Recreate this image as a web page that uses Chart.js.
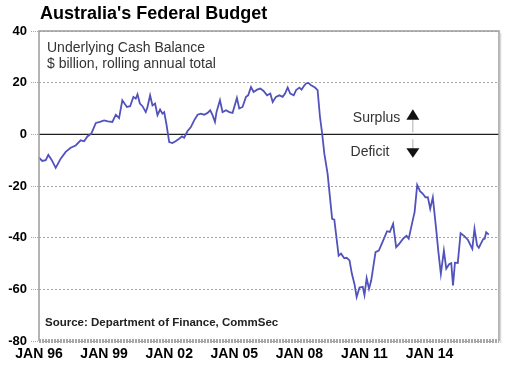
<!DOCTYPE html>
<html>
<head>
<meta charset="utf-8">
<script src="https://cdn.jsdelivr.net/npm/chart.js@4.4.1/dist/chart.umd.min.js"></script>
<style>
  html, body { margin: 0; padding: 0; background: #fff; }
  #chart-budget { display: block; }
</style>
</head>
<body>
<canvas id="chart-budget" width="508" height="371"></canvas>
<script>
/* ── Data: underlying cash balance, $bn rolling annual total ── */
// dates as decimal years, one row per calendar year
const dates = [
  1996.00, 1996.15, 1996.31, 1996.43, 1996.59, 1996.77,
  1997.00, 1997.23, 1997.46, 1997.69, 1997.92,
  1998.08, 1998.23, 1998.41, 1998.62, 1998.81,
  1999.00, 1999.18, 1999.38, 1999.54, 1999.69, 1999.84,
  2000.05, 2000.20, 2000.35, 2000.46, 2000.54, 2000.65, 2000.77, 2000.92,
  2001.00, 2001.12, 2001.23, 2001.35, 2001.46, 2001.58, 2001.69, 2001.77, 2001.87,
  2002.00, 2002.15, 2002.31, 2002.46, 2002.59, 2002.69, 2002.84,
  2003.00, 2003.15, 2003.31, 2003.46, 2003.61, 2003.77, 2003.89,
  2004.00, 2004.11, 2004.18, 2004.34, 2004.46, 2004.62, 2004.77, 2004.92,
  2005.12, 2005.23, 2005.38, 2005.54, 2005.64, 2005.77, 2005.89,
  2006.05, 2006.20, 2006.35, 2006.51, 2006.66, 2006.77, 2006.92,
  2007.08, 2007.23, 2007.34, 2007.46, 2007.58, 2007.74, 2007.85,
  2008.00, 2008.10, 2008.20, 2008.31, 2008.41, 2008.54, 2008.72, 2008.84, 2008.95,
  2009.05, 2009.15, 2009.30, 2009.51, 2009.61, 2009.81, 2009.92,
  2010.07, 2010.18, 2010.31, 2010.42, 2010.54, 2010.64, 2010.77, 2010.92,
  2011.00, 2011.10, 2011.21, 2011.31, 2011.51, 2011.66, 2011.83,
  2012.04, 2012.17, 2012.32, 2012.46, 2012.60, 2012.80, 2012.94,
  2013.04, 2013.21, 2013.31, 2013.43, 2013.56, 2013.69, 2013.81, 2013.92,
  2014.03, 2014.15, 2014.31, 2014.40, 2014.52, 2014.66, 2014.77, 2014.90,
  2015.00, 2015.08, 2015.17, 2015.30, 2015.43, 2015.59, 2015.77, 2015.97,
  2016.07, 2016.19, 2016.27, 2016.47, 2016.54, 2016.61, 2016.73
];
const balance = [
  -9.0, -10.3, -10.0, -7.9, -10.0, -13.0,
  -9.4, -6.8, -5.2, -4.3, -2.3,
  -2.7, -0.8, 0.3, 4.4, 4.8,
  5.4, 5.0, 4.8, 7.6, 6.3, 13.2,
  10.6, 10.9, 14.5, 13.8, 15.5, 11.9, 10.9, 8.6,
  10.6, 15.1, 11.2, 11.9, 7.4, 9.6, 8.0, 8.6, 4.1,
  -3.0, -3.4, -2.6, -1.7, -0.8, -1.3, 1.2,
  2.8, 5.4, 7.6, 8.0, 7.6, 8.3, 9.3,
  7.4, 4.8, 8.6, 13.2, 8.6, 9.3, 8.6, 8.3,
  14.1, 10.0, 10.6, 14.5, 15.1, 18.3, 16.4,
  17.3, 17.7, 16.8, 15.1, 15.8, 12.5, 14.5,
  15.1, 14.5, 15.8, 18.1, 15.8, 15.1, 17.1,
  18.1, 17.3, 18.6, 19.7, 19.9, 19.0, 18.1, 17.1, 6.7,
  0.3, -7.5, -15.2, -32.7, -33.0, -47.0, -46.2,
  -48.0, -47.8, -48.8, -54.0, -58.0, -63.0, -59.3, -59.0,
  -62.2, -55.7, -59.8, -56.6, -45.6, -45.0, -41.7,
  -37.5, -37.8, -34.6, -43.7, -42.4, -40.2, -39.3,
  -40.4, -33.8, -30.1, -19.6, -22.0, -23.0, -24.4, -24.3,
  -28.8, -24.4, -37.2, -45.0, -54.0, -45.0, -52.0, -50.3,
  -49.9, -58.5, -49.7, -49.8, -38.3, -39.3, -40.9, -44.3,
  -36.6, -43.0, -43.9, -40.6, -40.4, -37.9, -38.8
];
const xTicks = [1996, 1999, 2002, 2005, 2008, 2011, 2014];
const xTickLabels = ['JAN 96', 'JAN 99', 'JAN 02', 'JAN 05', 'JAN 08', 'JAN 11', 'JAN 14'];
const yTicks = [40, 20, 0, -20, -40, -60, -80];

const FONT = '"Liberation Sans", Arial, sans-serif';

/* ── Frame, zero line, notes ── */
const decorPlugin = {
  id: 'decor',
  beforeDatasetsDraw(chart) {
    const { ctx, chartArea: a, scales: { y } } = chart;
    const y0 = y.getPixelForValue(0);
    ctx.save();
    ctx.strokeStyle = '#1e1e1e';
    ctx.lineWidth = 1.3;
    ctx.beginPath(); ctx.moveTo(a.left, y0); ctx.lineTo(a.right, y0); ctx.stroke();
    ctx.restore();
  },
  afterDraw(chart) {
    const { ctx, chartArea: a, scales: { x, y } } = chart;
    ctx.save();

    // box
    ctx.strokeStyle = '#9c9c9c';
    ctx.lineWidth = 1.5;
    ctx.beginPath();
    ctx.moveTo(a.left, a.bottom); ctx.lineTo(a.left, a.top);
    ctx.lineTo(a.right, a.top); ctx.lineTo(a.right, a.bottom);
    ctx.stroke();
    ctx.strokeStyle = '#d8d8d8';
    ctx.lineWidth = 1.5;
    ctx.beginPath(); ctx.moveTo(a.right + 1.5, a.top + 2); ctx.lineTo(a.right + 1.5, a.bottom + 2); ctx.stroke();
    // hatched base line
    ctx.strokeStyle = '#a8a8a8';
    ctx.lineWidth = 4;
    ctx.setLineDash([2, 1]);
    ctx.beginPath(); ctx.moveTo(a.left, a.bottom); ctx.lineTo(a.right, a.bottom); ctx.stroke();
    ctx.setLineDash([]);

    // title
    ctx.fillStyle = '#000';
    ctx.font = 'bold 18px ' + FONT;
    ctx.textBaseline = 'alphabetic';
    ctx.textAlign = 'left';
    ctx.fillText("Australia's Federal Budget", a.left + 1, 19);

    // series note
    ctx.fillStyle = '#333';
    ctx.font = '14px ' + FONT;
    ctx.fillText('Underlying Cash Balance', a.left + 8, a.top + 21);
    ctx.fillText('$ billion, rolling annual total', a.left + 8, a.top + 37);

    // source
    ctx.fillStyle = '#222';
    ctx.font = 'bold 11.5px ' + FONT;
    ctx.fillText('Source: Department of Finance, CommSec', a.left + 6, a.bottom - 15);

    // surplus / deficit
    const y0 = y.getPixelForValue(0);
    const ax = x.getPixelForValue(2013.23);
    ctx.fillStyle = '#333';
    ctx.font = '14px ' + FONT;
    ctx.textAlign = 'right';
    ctx.fillText('Surplus', x.getPixelForValue(2012.65), y0 - 12);
    ctx.fillText('Deficit', x.getPixelForValue(2012.15), y0 + 22);

    ctx.strokeStyle = '#b0b0b0';
    ctx.lineWidth = 1;
    ctx.beginPath(); ctx.moveTo(ax, y0 - 15); ctx.lineTo(ax, y0 - 2); ctx.stroke();
    ctx.beginPath(); ctx.moveTo(ax, y0 + 5); ctx.lineTo(ax, y0 + 15); ctx.stroke();
    ctx.fillStyle = '#111';
    ctx.beginPath();
    ctx.moveTo(ax, y0 - 25); ctx.lineTo(ax + 6.5, y0 - 14.5); ctx.lineTo(ax - 6.5, y0 - 14.5);
    ctx.closePath(); ctx.fill();
    ctx.beginPath();
    ctx.moveTo(ax, y0 + 23.5); ctx.lineTo(ax + 6.5, y0 + 14); ctx.lineTo(ax - 6.5, y0 + 14);
    ctx.closePath(); ctx.fill();

    ctx.restore();
  }
};

new Chart(document.getElementById('chart-budget'), {
  type: 'line',
  data: {
    datasets: [{
      label: 'Underlying Cash Balance',
      data: dates.map((d, i) => ({ x: d, y: balance[i] })),
      borderColor: '#5252bd',
      borderWidth: 1.8,
      pointRadius: 0,
      tension: 0,
      fill: false
    }]
  },
  options: {
    responsive: false,
    animation: false,
    layout: { padding: { top: 31, right: 9, left: 0, bottom: 0 } },
    plugins: { legend: { display: false }, tooltip: { enabled: false } },
    scales: {
      x: {
        type: 'linear',
        min: 1996,
        max: 2017.2,
        afterBuildTicks: s => { s.ticks = xTicks.map(v => ({ value: v })); },
        afterFit: s => { s.height = 30; },
        grid: { display: false, drawTicks: false },
        border: { display: false },
        ticks: {
          autoSkip: false, maxRotation: 0, padding: 5,
          color: '#000',
          font: { family: FONT, size: 14, weight: 'bold' },
          callback: v => xTickLabels[xTicks.indexOf(v)] || ''
        }
      },
      y: {
        min: -80,
        max: 40,
        afterBuildTicks: s => { s.ticks = yTicks.map(v => ({ value: v })); },
        afterFit: s => { s.width = 39; },
        grid: {
          color: '#a6a6a6',
          lineWidth: 1,
          tickLength: 8,
          tickBorderDash: [1, 1]
        },
        border: { display: false, dash: [2, 2] },
        ticks: {
          padding: 4,
          color: '#000',
          font: { family: FONT, size: 13, weight: 'bold' }
        }
      }
    }
  },
  plugins: [decorPlugin]
});
</script>
</body>
</html>
